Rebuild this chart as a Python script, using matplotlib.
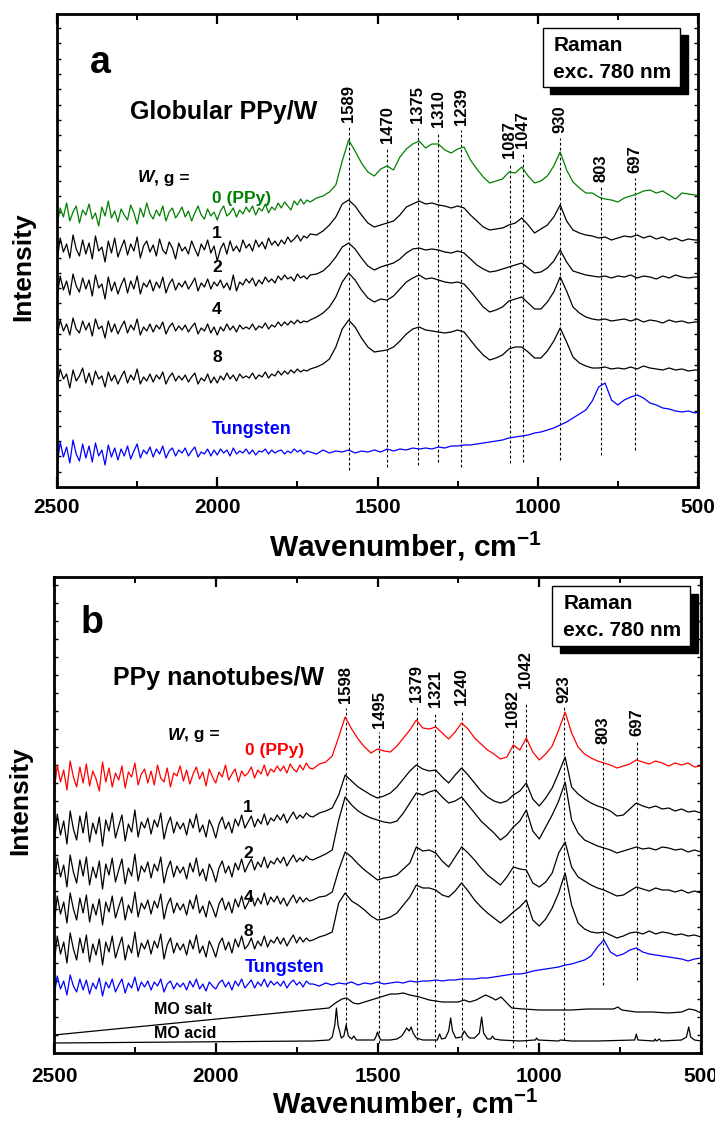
import matplotlib
matplotlib.use('Agg')
import matplotlib.pyplot as plt
from matplotlib.patches import Rectangle
from matplotlib.ticker import MultipleLocator

plt.rcParams['font.family'] = ['Liberation Sans', 'DejaVu Sans']
plt.rcParams['font.weight'] = 'bold'
plt.rcParams['mathtext.fontset'] = 'custom'
plt.rcParams['mathtext.rm'] = 'Liberation Sans:bold'
plt.rcParams['mathtext.default'] = 'rm'

# ---------------- panel a : globular PPy/W ----------------
# fine steps in the noisy high-wavenumber part, coarser below 1700
wn_a = [2500] + list(range(2490, 1700, -10)) + list(range(1690, 509, -20)) + [500]

ppy_a = [262, 279, 270, 284, 266, 275, 281, 264, 277, 272,
         283, 268, 274, 261, 280, 271, 286, 269, 276, 265,
         278, 272, 267, 282, 274, 263, 279, 270, 284, 273,
         268, 277, 271, 281, 266, 275, 279, 269, 274, 280,
         270, 276, 266, 274, 281, 272, 268, 278, 271, 275,
         267, 276, 281, 271, 274, 279, 270, 277, 273, 280,
         275, 281, 272, 279, 276, 283, 274, 280, 277, 284,
         279, 285, 281, 277, 286, 282, 288, 283, 287, 285,
         289, 291, 295, 302, 326, 347, 336, 324, 315,
         311, 318, 321, 317, 330, 338, 343, 346, 339, 343,
         343, 337, 334, 338, 340, 327, 318, 310, 304, 306,
         308, 315, 314, 320, 311, 304, 306, 311, 321, 335,
         317, 305, 299, 294, 294, 290, 288, 287, 285, 289,
         291, 293, 296, 297, 294, 296, 292, 288, 294, 293,
         292, 292]
w1_a = [226, 249, 235, 243, 229, 252, 238, 231, 247, 233,
        244, 228, 251, 236, 240, 225, 246, 234, 249, 230,
        239, 247, 232, 243, 236, 250, 229, 241, 246, 235,
        242, 231, 248, 237, 233, 245, 239, 228, 244, 236,
        240, 233, 246, 238, 231, 243, 237, 247, 234, 241,
        226, 238, 244, 233, 246, 236, 241, 235, 247, 239,
        243, 236, 247, 240, 245, 238, 249, 242, 246, 241,
        247, 243, 250, 245, 248, 252, 246, 251, 249, 253,
        252, 256, 262, 270, 283, 287, 281, 272, 264,
        260, 262, 264, 266, 272, 280, 283, 286, 283, 284,
        282, 281, 279, 281, 279, 272, 266, 260, 257, 258,
        259, 262, 264, 269, 262, 254, 258, 262, 270, 282,
        266, 257, 254, 252, 251, 249, 250, 247, 249, 251,
        250, 252, 249, 251, 248, 250, 247, 249, 246, 248,
        247, 247]
w2_a = [190, 211, 197, 206, 192, 213, 201, 195, 209, 198,
        207, 191, 212, 199, 203, 188, 210, 196, 205, 193,
        202, 209, 194, 206, 198, 211, 193, 204, 200, 207,
        196, 205, 199, 210, 194, 203, 208, 197, 204, 200,
        206, 198, 203, 209, 196, 204, 200, 208, 198, 205,
        201, 207, 199, 204, 197, 212, 196, 205, 202, 208,
        204, 209, 201, 207, 203, 210, 205, 208, 204, 211,
        207, 212, 208, 210, 206, 213, 209, 211, 208, 212,
        213, 216, 222, 230, 240, 244, 238, 229, 221,
        217, 220, 222, 224, 228, 234, 238, 239, 237, 238,
        237, 235, 234, 236, 234, 228, 222, 218, 215, 216,
        218, 220, 222, 224, 219, 214, 215, 219, 226, 237,
        225, 216, 214, 212, 211, 210, 211, 209, 211, 210,
        212, 209, 211, 210, 208, 211, 209, 212, 210, 209,
        210, 210]
w4_a = [150, 167, 156, 163, 152, 169, 158, 154, 166, 157,
        164, 151, 168, 158, 161, 149, 166, 155, 163, 153,
        160, 166, 154, 162, 157, 168, 152, 160, 156, 163,
        155, 162, 158, 165, 153, 160, 164, 156, 161, 157,
        162, 155, 160, 164, 153, 159, 156, 163, 154, 160,
        152, 160, 156, 163, 157, 161, 155, 162, 158, 160,
        158, 163, 157, 161, 159, 164, 158, 162, 160, 165,
        161, 165, 162, 166, 163, 167, 164, 166, 165, 167,
        170, 174, 180, 190, 205, 214, 207, 197, 189,
        185, 188, 187, 191, 198, 205, 209, 212, 208, 209,
        207, 205, 204, 205, 203, 196, 188, 180, 175, 177,
        180, 186, 188, 190, 184, 178, 178, 185, 195, 210,
        196, 180, 174, 170, 168, 167, 168, 166, 167, 168,
        166, 168, 165, 167, 166, 164, 167, 165, 166, 164,
        165, 165]
w8_a = [101, 118, 108, 113, 99, 117, 106, 111, 119, 104,
        114, 102, 116, 108, 111, 100, 115, 106, 112, 103,
        110, 116, 104, 112, 107, 118, 103, 110, 106, 113,
        105, 112, 108, 115, 103, 110, 114, 106, 111, 107,
        112, 105, 110, 114, 103, 109, 106, 113, 104, 110,
        104, 111, 107, 114, 108, 112, 106, 113, 109, 111,
        109, 114, 108, 112, 110, 115, 109, 113, 111, 116,
        112, 116, 113, 117, 114, 118, 115, 117, 116, 118,
        120, 123, 128, 140, 158, 167, 160, 149, 140,
        135, 136, 137, 140, 146, 153, 158, 160, 157, 156,
        155, 154, 155, 157, 155, 147, 139, 132, 127, 129,
        132, 138, 140, 140, 135, 129, 129, 136, 146, 159,
        145, 130, 124, 121, 119, 119, 120, 118, 119, 118,
        120, 118, 121, 119, 118, 117, 119, 117, 118, 116,
        117, 117]
tung_a = [20, 45, 30, 40, 24, 47, 33, 26, 43, 29,
          41, 25, 44, 31, 37, 22, 42, 30, 39, 27,
          38, 31, 41, 28, 36, 43, 29, 37, 33, 40,
          30, 38, 33, 41, 29, 36, 39, 31, 37, 34,
          39, 31, 36, 40, 30, 35, 33, 38, 31, 37,
          32, 38, 34, 37, 31, 39, 33, 36, 34, 38,
          33, 37, 32, 36, 35, 38, 33, 37, 34, 36,
          37, 33, 36, 34, 38, 35, 37, 33, 36, 35,
          33, 37, 34, 36, 35, 37, 34, 36, 35,
          37, 35, 38, 36, 38, 37, 39, 38, 39, 38,
          40, 39, 41, 41, 42, 42, 43, 44, 45, 46,
          47, 49, 50, 51, 52, 54, 55, 57, 59, 62,
          65, 69, 73, 77, 86, 100, 104, 87, 82, 87,
          90, 92, 89, 84, 82, 79, 78, 76, 75, 76,
          74, 75]

peaks_a = [1589, 1470, 1375, 1310, 1239, 1087, 1047, 930, 803, 697]
peak_top_a = [360, 339, 359, 355, 357, 324, 334, 349, 300, 309]
peak_bot_a = [17, 20, 22, 25, 20, 24, 25, 27, 32, 37]

# ---------------- panel b : PPy nanotubes/W ----------------
wn_b = list(range(2500, 1700, -10)) + list(range(1700, 499, -20))

ppy_b = [260, 288, 271, 283, 263, 292, 276, 266, 286, 270,
         289, 267, 282, 274, 262, 291, 271, 285, 266, 280,
         273, 287, 265, 281, 276, 290, 268, 279, 284, 270,
         282, 268, 288, 275, 271, 285, 266, 280, 277, 287,
         272, 283, 269, 279, 286, 274, 281, 267, 284, 276,
         270, 281, 276, 288, 273, 279, 284, 271, 282, 277,
         280, 286, 275, 283, 279, 288, 277, 284, 281, 287,
         282, 287, 280, 289, 284, 281, 288, 283, 290, 285,
         284, 289, 291, 297, 316, 336, 324, 314, 306, 300,
         304, 302, 301, 307, 315, 323, 333, 325, 324, 326,
         320, 314, 321, 330, 324, 315, 309, 303, 299, 294,
         296, 308, 303, 315, 301, 293, 299, 307, 323, 341,
         320, 306, 299, 295, 292, 290, 288, 285, 287, 289,
         293, 291, 289, 292, 290, 287, 290, 288, 290, 286,
         287]
w1_b = [206, 239, 218, 232, 209, 242, 224, 213, 237, 220,
        241, 211, 230, 219, 236, 207, 233, 222, 240, 215,
        227, 238, 212, 229, 221, 243, 216, 231, 225, 235,
        219, 233, 226, 240, 214, 228, 236, 220, 231, 224,
        230, 218, 234, 225, 239, 221, 228, 216, 233, 226,
        215, 229, 236, 224, 231, 220, 234, 227, 238, 225,
        231, 237, 226, 234, 229, 239, 228, 235, 232, 238,
        233, 239, 230, 236, 241, 234, 238, 235, 240, 237,
        236, 240, 242, 245, 258, 278, 272, 266, 262, 258,
        255, 257, 260, 266, 274, 282, 288, 284, 282, 283,
        276, 270, 278, 285, 278, 270, 262, 256, 252, 250,
        252, 258, 262, 270, 254, 247, 255, 265, 280, 296,
        266, 259, 254, 250, 247, 245, 242, 237, 238, 244,
        250, 247, 245, 247, 244, 245, 242, 244, 241, 242,
        240]
w2_b = [163, 195, 176, 188, 166, 198, 181, 170, 193, 177,
        196, 168, 186, 175, 192, 164, 189, 178, 195, 171,
        183, 194, 169, 185, 177, 199, 172, 187, 181, 191,
        175, 189, 182, 196, 170, 184, 192, 176, 187, 180,
        186, 174, 190, 181, 195, 177, 184, 172, 189, 182,
        171, 185, 192, 180, 187, 176, 190, 183, 194, 181,
        188, 194, 183, 191, 186, 196, 185, 192, 189, 195,
        190, 196, 187, 193, 198, 191, 195, 192, 197, 194,
        193, 196, 199, 203, 233, 256, 248, 242, 238, 235,
        233, 231, 230, 232, 240, 250, 260, 258, 261, 263,
        256, 250, 252, 256, 248, 240, 232, 226, 220, 213,
        218, 226, 232, 243, 222, 214, 226, 238, 252, 271,
        233, 220, 213, 210, 207, 205, 203, 200, 202, 204,
        206, 204, 205, 203, 206, 205, 203, 204, 201, 203,
        201]
w4_b = [127, 157, 139, 151, 130, 160, 144, 133, 155, 140,
        158, 131, 149, 138, 154, 128, 151, 141, 157, 135,
        146, 156, 133, 148, 140, 161, 136, 150, 144, 153,
        139, 152, 145, 159, 134, 148, 155, 140, 150, 143,
        149, 138, 153, 144, 158, 140, 147, 136, 152, 145,
        136, 149, 155, 143, 151, 140, 154, 146, 157, 144,
        150, 158, 147, 155, 149, 160, 148, 156, 151, 157,
        149, 155, 147, 153, 158, 150, 156, 151, 155, 152,
        153, 156, 157, 161, 183, 201, 196, 189, 183, 178,
        173, 175, 176, 178, 184, 190, 206, 202, 203, 200,
        192, 186, 196, 206, 200, 193, 185, 178, 173, 168,
        176, 186, 184, 183, 170, 166, 171, 180, 200, 211,
        186, 176, 172, 168, 165, 163, 160, 157, 158, 162,
        166, 164, 162, 165, 163, 163, 161, 163, 160, 162,
        160]
w8_b = [87, 117, 99, 111, 90, 120, 104, 93, 115, 100,
        118, 91, 109, 98, 114, 88, 111, 101, 117, 95,
        106, 116, 93, 108, 100, 121, 96, 110, 104, 113,
        99, 112, 105, 119, 94, 108, 115, 100, 110, 103,
        109, 98, 113, 104, 118, 100, 107, 96, 112, 105,
        96, 109, 115, 103, 111, 100, 114, 106, 117, 104,
        108, 115, 104, 112, 107, 117, 106, 113, 110, 116,
        109, 115, 107, 113, 118, 110, 116, 111, 115, 112,
        113, 116, 118, 121, 150, 160, 152, 148, 143, 137,
        133, 134, 136, 140, 148, 156, 168, 165, 165, 163,
        158, 156, 162, 170, 162, 153, 146, 140, 135, 130,
        135, 141, 146, 153, 133, 127, 134, 145, 160, 180,
        148, 130, 124, 121, 120, 121, 118, 115, 117, 120,
        121, 119, 122, 119, 121, 120, 118, 119, 117, 118,
        116]
tung_b = [56, 77, 64, 72, 58, 78, 67, 61, 74, 63,
          73, 59, 70, 64, 75, 57, 71, 65, 74, 61,
          68, 74, 60, 70, 65, 76, 62, 71, 66, 72,
          63, 71, 67, 74, 61, 69, 72, 64, 70, 66,
          70, 63, 72, 66, 74, 64, 69, 62, 71, 67,
          64, 70, 73, 66, 71, 63, 72, 67, 74, 65,
          69, 73, 65, 71, 67, 74, 66, 72, 68, 71,
          67, 72, 65, 70, 73, 68, 71, 66, 72, 69,
          69, 67, 70, 68, 70, 69, 71, 68, 70, 69,
          71, 69, 70, 71, 70, 72, 71, 72, 72, 73,
          72, 73, 73, 74, 74, 74, 75, 75, 76, 77,
          78, 79, 79, 80, 82, 83, 84, 85, 86, 88,
          89, 91, 93, 97, 106, 113, 101, 97, 99, 103,
          105, 101, 99, 98, 97, 96, 95, 94, 92, 94,
          95]

mo_salt_wn = [2500, 1650, 1630, 1610, 1595, 1575, 1560, 1530, 1500, 1460,
              1440, 1420, 1400, 1370, 1340, 1300, 1278, 1250, 1232, 1215,
              1195, 1166, 1145, 1135, 1118, 1100, 1085, 1050, 1000, 900,
              850, 800, 770, 757, 745, 700, 650, 600, 560, 537, 520, 500]
mo_salt = [18, 45, 50, 54, 55, 50, 49, 52, 55, 59,
           59, 60, 58, 56, 53, 51, 51, 51, 53, 51,
           53, 58, 55, 53, 56, 50, 45, 44, 43, 43,
           44, 44, 44, 46, 43, 41, 41, 40, 41, 44, 43, 40]

mo_acid_wn = [2500, 1700, 1650, 1640, 1632, 1627, 1622, 1612, 1604, 1597,
              1590, 1580, 1573, 1565, 1510, 1504, 1500, 1496, 1490, 1460,
              1440, 1425, 1415, 1410, 1402, 1396, 1390, 1380, 1360, 1315,
              1308, 1302, 1290, 1280, 1274, 1268, 1258, 1240, 1232, 1228,
              1222, 1215, 1200, 1185, 1178, 1172, 1160, 1150, 1145, 1138,
              1120, 1060, 1012, 1008, 1004, 940, 935, 900, 820, 705,
              700, 695, 645, 642, 638, 628, 624, 560, 545, 538,
              532, 520, 500]
mo_acid = [10, 12, 13, 16, 28, 45, 28, 15, 17, 28,
           17, 14, 17, 13, 13, 17, 21, 17, 13, 13,
           14, 17, 22, 25, 22, 26, 20, 15, 13, 13,
           19, 14, 15, 22, 35, 22, 15, 16, 22, 20,
           17, 15, 15, 20, 36, 20, 14, 14, 17, 14,
           13, 12, 13, 15, 13, 12, 13, 12, 12, 13,
           19, 13, 12, 14, 12, 14, 12, 13, 16, 26,
           16, 13, 12]

peaks_b = [1598, 1495, 1379, 1321, 1240, 1082, 1042, 923, 803, 697]
peak_top_b = [345, 321, 346, 340, 341, 323, 351, 348, 305, 313]
peak_lab_b = [350, 325, 351, 346, 348, 326, 365, 350, 309, 317]
peak_bot_b = [23, 10, 13, 6, 13, 5, 6, 13, 68, 73]

GREEN = '#008000'
RED = '#ff0000'
BLUE = '#0000ff'
LW = 0.9

fig = plt.figure(figsize=(7.15, 11.21), dpi=100)
ax_a = fig.add_axes([57 / 715, 1 - 487 / 1121, 641 / 715, 473 / 1121])
ax_b = fig.add_axes([54 / 715, 1 - 1053 / 1121, 647 / 715, 476 / 1121])


def style_axes(ax, ytop, ystep, pad, xlab_size):
    ax.set_xlim(2500, 500)
    ax.set_ylim(0, ytop)
    ax.xaxis.set_major_locator(MultipleLocator(500))
    ax.xaxis.set_minor_locator(MultipleLocator(250))
    ax.yaxis.set_major_locator(MultipleLocator(ystep))
    ax.set_yticklabels([])
    ax.tick_params(axis='x', which='major', direction='in', length=7, width=1.6,
                   top=True, labelsize=15, pad=pad)
    ax.tick_params(axis='x', which='minor', direction='in', length=4, width=1.4,
                   top=True)
    ax.tick_params(axis='y', which='major', direction='in', length=3, width=1.0,
                   left=True, right=True)
    for lab in ax.get_xticklabels():
        lab.set_fontweight('bold')
    for sp in ax.spines.values():
        sp.set_linewidth(2.0)
    ax.set_xlabel('Wavenumber, cm$^{-1}$', fontsize=xlab_size, fontweight='bold')
    ax.set_ylabel('Intensity', fontsize=19, fontweight='bold')


def raman_box(ax, white, shadow, ty1, ty2, tx):
    ax.add_patch(Rectangle((shadow[0], shadow[1]), shadow[2] - shadow[0],
                           shadow[3] - shadow[1], transform=ax.transAxes,
                           facecolor='black', edgecolor='black', zorder=5))
    ax.add_patch(Rectangle((white[0], white[1]), white[2] - white[0],
                           white[3] - white[1], transform=ax.transAxes,
                           facecolor='white', edgecolor='black', lw=1.0, zorder=6))
    ax.text(tx, ty1, 'Raman', transform=ax.transAxes, fontsize=15,
            fontweight='bold', va='center', ha='left', zorder=7)
    ax.text(tx, ty2, 'exc. 780 nm', transform=ax.transAxes, fontsize=15,
            fontweight='bold', va='center', ha='left', zorder=7)


def w_label(ax, x, y):
    t = ax.text(x, y, 'W', fontsize=12.5, fontweight='bold', style='italic',
                va='center', ha='left')
    ax.annotate(', g =', xy=(1, 0.5), xycoords=t, fontsize=12.5,
                fontweight='bold', va='center', ha='left')


# ---- panel a ----
ax = ax_a
style_axes(ax, 473, 15.3, 8, 21.5)
ax.xaxis.set_label_coords(0.543, -0.090)
ax.yaxis.set_label_coords(-0.034, 0.465)
for p, top, bot in zip(peaks_a, peak_top_a, peak_bot_a):
    ax.plot([p, p], [bot, top], color='black', lw=0.8, ls=(0, (2.5, 2)))
    ax.text(p, top + 5, str(p), rotation=90, ha='center', va='bottom',
            fontsize=12, fontweight='bold')
ax.plot(wn_a, ppy_a, color=GREEN, lw=LW)
for s in (w1_a, w2_a, w4_a, w8_a):
    ax.plot(wn_a, s, color='black', lw=LW)
ax.plot(wn_a, tung_a, color=BLUE, lw=LW)

ax.text(2366, 424, 'a', fontsize=27, fontweight='bold', ha='center', va='center')
ax.text(2272, 375, 'Globular PPy/W', fontsize=18, fontweight='bold', va='center')
w_label(ax, 2247, 309)
ax.text(1923, 289, '0 (PPy)', color=GREEN, fontsize=12.5, ha='center', va='center')
for lab, yv in zip(['1', '2', '4', '8'], [254, 219, 177, 129]):
    ax.text(2001, yv, lab, fontsize=12.5, ha='center', va='center')
ax.text(1892, 57, 'Tungsten', color=BLUE, fontsize=13, ha='center', va='center')
raman_box(ax, (0.758, 0.846, 0.972, 0.970), (0.769, 0.831, 0.984, 0.956),
          0.934, 0.877, 0.774)

# ---- panel b ----
ax = ax_b
style_axes(ax, 476, 18, 10, 21)
ax.xaxis.set_label_coords(0.5425, -0.072)
ax.yaxis.set_label_coords(-0.034, 0.53)
for p, top, lab, bot in zip(peaks_b, peak_top_b, peak_lab_b, peak_bot_b):
    ax.plot([p, p], [bot, top], color='black', lw=0.8, ls=(0, (2.5, 2)))
    ax.text(p, lab, str(p), rotation=90, ha='center', va='bottom',
            fontsize=12, fontweight='bold')
ax.plot(wn_b, ppy_b, color=RED, lw=LW)
for s in (w1_b, w2_b, w4_b, w8_b):
    ax.plot(wn_b, s, color='black', lw=LW)
ax.plot(wn_b, tung_b, color=BLUE, lw=LW)
ax.plot(mo_salt_wn, mo_salt, color='black', lw=LW)
ax.plot(mo_acid_wn, mo_acid, color='black', lw=LW)

ax.text(2383, 430, 'b', fontsize=27, fontweight='bold', ha='center', va='center')
ax.text(2318, 375, 'PPy nanotubes/W', fontsize=18, fontweight='bold', va='center')
w_label(ax, 2148, 318)
ax.text(1817, 303, '0 (PPy)', color=RED, fontsize=12.5, ha='center', va='center')
for lab, yv in zip(['1', '2', '4', '8'], [245, 200, 155, 121]):
    ax.text(1900, yv, lab, fontsize=12.5, ha='center', va='center')
ax.text(1786, 85, 'Tungsten', color=BLUE, fontsize=13, ha='center', va='center')
ax.text(2101, 43, 'MO salt', fontsize=11.5, ha='center', va='center')
ax.text(2095, 20, 'MO acid', fontsize=11.5, ha='center', va='center')
raman_box(ax, (0.770, 0.855, 0.983, 0.981), (0.782, 0.840, 0.995, 0.964),
          0.945, 0.887, 0.787)

fig.savefig('out.png', dpi=100)
